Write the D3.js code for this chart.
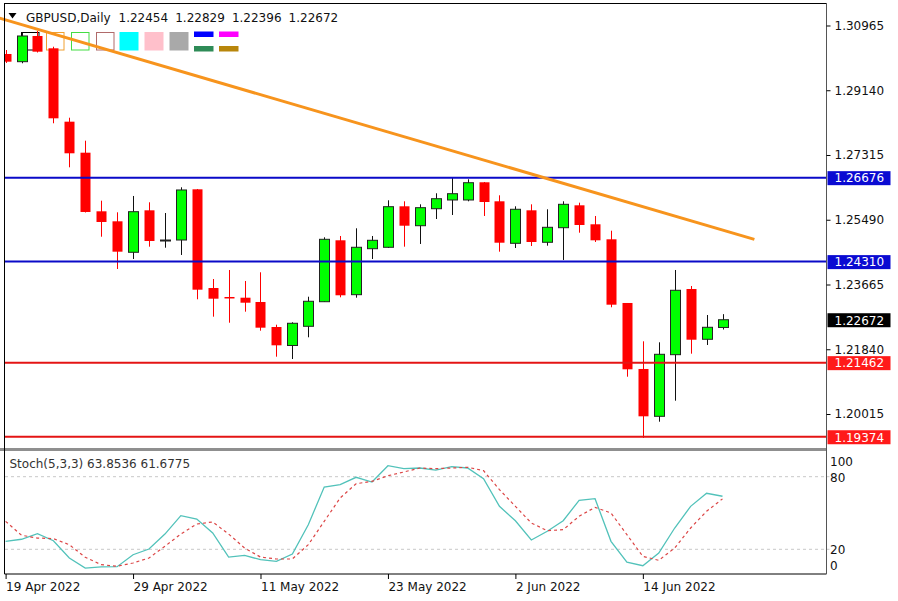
<!DOCTYPE html>
<html>
<head>
<meta charset="utf-8">
<script src="https://cdn.jsdelivr.net/npm/d3@7"></script>
<style>
  body { margin: 0; background: #fff; }
  text { font-family: "DejaVu Sans", sans-serif; font-size: 12px; fill: #111; }
</style>
</head>
<body>
<div id="root"></div>
<script>
// Daily bars, GBPUSD
const dates = [
  "2022-04-19", "2022-04-20", "2022-04-21", "2022-04-22", "2022-04-25", "2022-04-26",
  "2022-04-27", "2022-04-28", "2022-04-29", "2022-05-02", "2022-05-03", "2022-05-04",
  "2022-05-05", "2022-05-06", "2022-05-09", "2022-05-10", "2022-05-11", "2022-05-12",
  "2022-05-13", "2022-05-16", "2022-05-17", "2022-05-18", "2022-05-19", "2022-05-20",
  "2022-05-23", "2022-05-24", "2022-05-25", "2022-05-26", "2022-05-27", "2022-05-30",
  "2022-05-31", "2022-06-01", "2022-06-02", "2022-06-03", "2022-06-06", "2022-06-07",
  "2022-06-08", "2022-06-09", "2022-06-10", "2022-06-13", "2022-06-14", "2022-06-15",
  "2022-06-16", "2022-06-17", "2022-06-20", "2022-06-21"
];
const open = [
  1.30162, 1.29945, 1.30669, 1.30322, 1.28254, 1.27380, 1.25728, 1.25446, 1.24573, 1.25756,
  1.24919, 1.24919, 1.26348, 1.23566, 1.23313, 1.23293, 1.23172, 1.22467, 1.21946, 1.22487,
  1.23180, 1.24911, 1.23378, 1.24674, 1.24714, 1.25869, 1.25322, 1.25801, 1.26047, 1.26047,
  1.26546, 1.26010, 1.24826, 1.25756, 1.24855, 1.25266, 1.25897, 1.25362, 1.24939, 1.23144,
  1.21284, 1.19950, 1.21687, 1.23538, 1.22121, 1.22454
];
const high = [
  1.30274, 1.30754, 1.30810, 1.30367, 1.28366, 1.27718, 1.26027, 1.25700, 1.26160, 1.25982,
  1.25680, 1.26405, 1.26357, 1.23820, 1.24074, 1.23764, 1.24009, 1.22532, 1.22600, 1.23321,
  1.24995, 1.25032, 1.25249, 1.25032, 1.26038, 1.26010, 1.25925, 1.26236, 1.26687, 1.26630,
  1.26554, 1.26179, 1.25869, 1.25925, 1.25785, 1.26010, 1.25971, 1.25596, 1.25181, 1.23144,
  1.22064, 1.22036, 1.24074, 1.23623, 1.22805, 1.22829
];
const low = [
  1.29908, 1.29900, 1.30204, 1.28209, 1.26968, 1.25695, 1.25012, 1.24102, 1.24384, 1.24731,
  1.24702, 1.24497, 1.23248, 1.22758, 1.22588, 1.22899, 1.22363, 1.21630, 1.21565, 1.22177,
  1.23172, 1.23304, 1.23293, 1.24384, 1.24694, 1.24731, 1.24807, 1.25511, 1.25624, 1.26010,
  1.25596, 1.24590, 1.24694, 1.24750, 1.24759, 1.24356, 1.25125, 1.24863, 1.23023, 1.21066,
  1.19340, 1.19798, 1.20390, 1.21715, 1.21960, 1.22396
];
const close = [
  1.29945, 1.30669, 1.30227, 1.28349, 1.27363, 1.25709, 1.25427, 1.24590, 1.25717, 1.24891,
  1.24919, 1.26329, 1.23519, 1.23265, 1.23271, 1.23152, 1.22448, 1.21951, 1.22572, 1.23192,
  1.24939, 1.23361, 1.24714, 1.24911, 1.25858, 1.25322, 1.25830, 1.26083, 1.26224, 1.26534,
  1.25990, 1.24843, 1.25785, 1.24863, 1.25277, 1.25925, 1.25342, 1.24911, 1.23096, 1.21275,
  1.19950, 1.21698, 1.23502, 1.22109, 1.22459, 1.22672
];

// Stochastic (5,3,3)
const stochK = [
  26.6, 28.3, 32.9, 27.1, 12.8, 4.5, 5.4, 5.6, 15.5, 20.2,
  32.6, 47.8, 45.0, 33.5, 13.6, 15.0, 11.4, 10.0, 16.1, 40.3,
  71.5, 73.4, 79.5, 75.6, 89.1, 86.6, 87.2, 85.5, 88.3, 87.2,
  78.3, 55.5, 43.6, 27.7, 34.9, 43.6, 60.5, 61.8, 26.6, 9.3,
  6.4, 16.9, 37.6, 55.5, 66.3, 63.8536
];
const stochD = [
  43.1, 31.6, 29.3, 28.8, 23.8, 13.4, 7.3, 6.0, 8.7, 12.8,
  22.5, 32.6, 40.9, 42.6, 32.6, 21.1, 13.6, 12.0, 12.0, 23.8,
  43.1, 62.4, 74.2, 76.2, 80.8, 83.9, 87.2, 86.6, 87.2, 87.8,
  85.0, 69.3, 55.5, 41.7, 35.4, 36.2, 47.3, 54.7, 50.0, 32.1,
  14.2, 10.9, 21.1, 37.6, 51.4, 61.6775
];

// Horizontal levels and trend line
const resistance = [1.26676, 1.24310];
const support = [1.21462, 1.19374];
const trendDates = ["2022-04-18", "2022-06-23"];
const trendPrices = [1.31254, 1.24936];

// Axis labels
const priceTicks = [1.30965, 1.29140, 1.27315, 1.25490, 1.23665, 1.21840, 1.20015];
const stochTicks = [100, 80, 20, 0];
const stochLevels = [80, 20];
const tickDates = ["2022-04-19", "2022-04-29", "2022-05-11", "2022-05-23", "2022-06-02", "2022-06-14"];

// Layout
const width = 898;
const height = 601;
const plotLeft = 4.5;
const plotRight = 826.5;
const mainTop = 3;
const mainBottom = 447;
const stochTop = 452.5;
const stochBottom = 573.5;
const font = "DejaVu Sans";

const parseDate = d3.timeParse("%Y-%m-%d");
const labelFormat = d3.timeFormat("%-d %b %Y");

// bar index of any date, counting weekdays from the first bar
function barIndex(s) {
  const t = parseDate(s);
  const first = parseDate(dates[0]);
  const sign = t < first ? -1 : 1;
  const range = sign > 0 ? d3.timeDay.range(first, t) : d3.timeDay.range(t, first);
  let n = 0;
  range.forEach(d => {
    if (d.getDay() !== 0 && d.getDay() !== 6) n++;
  });
  return sign * n;
}

const svg = d3
  .select("#root")
  .append("svg")
  .attr("width", width)
  .attr("height", height);

// Scales
const xScale = d3.scaleLinear().domain([0, dates.length - 1]).range([5.6, 722.5]);
const yScale = d3.scaleLinear().domain([1.19085, 1.31599]).range([mainBottom, mainTop]);
const stochScale = d3.scaleLinear().domain([0, 100]).range([stochBottom, stochTop]);

const defs = svg.append("defs");
defs.append("clipPath").attr("id", "clip-main")
  .append("rect").attr("x", 5).attr("y", mainTop).attr("width", plotRight - 5).attr("height", mainBottom - mainTop + 1);
defs.append("clipPath").attr("id", "clip-trend")
  .append("rect").attr("x", 0).attr("y", 0).attr("width", plotRight).attr("height", mainBottom);
defs.append("clipPath").attr("id", "clip-stoch")
  .append("rect").attr("x", 5).attr("y", 451).attr("width", plotRight - 5).attr("height", stochBottom - 451);

// Colour swatches under the title
const swatches = svg.append("g");
const outlineColors = ["#000000", "#f0a030", "#44dd44", "#b06a6a"];
const fillColors = ["#00ffff", "#ffc0cb", "#a9a9a9"];
const splitColors = [["#0000ff", "#2e8b57"], ["#ff00ff", "#b8860b"]];
outlineColors.forEach((c, k) => {
  swatches.append("rect")
    .attr("x", 21.5 + k * 25).attr("y", 32.5)
    .attr("width", 17.5).attr("height", 17.5)
    .attr("fill", "none").attr("stroke", c).attr("stroke-width", 1);
});
fillColors.forEach((c, k) => {
  swatches.append("rect")
    .attr("x", 119.5 + k * 25).attr("y", 32)
    .attr("width", 19).attr("height", 18.5)
    .attr("fill", c);
});
splitColors.forEach((pair, k) => {
  swatches.append("rect").attr("x", 194 + k * 25).attr("y", 31.5).attr("width", 19.5).attr("height", 5.5).attr("fill", pair[0]);
  swatches.append("rect").attr("x", 194 + k * 25).attr("y", 46).attr("width", 19.5).attr("height", 5.5).attr("fill", pair[1]);
});

// Candles
const candles = svg.append("g").attr("clip-path", "url(#clip-main)");
const bars = d3.range(dates.length).map(i => ({
  i: i,
  o: open[i],
  h: high[i],
  l: low[i],
  c: close[i],
  up: close[i] >= open[i]
}));

candles.selectAll("line.wick")
  .data(bars)
  .enter()
  .append("line")
  .attr("class", "wick")
  .attr("x1", d => Math.round(xScale(d.i)) + 0.5)
  .attr("x2", d => Math.round(xScale(d.i)) + 0.5)
  .attr("y1", d => yScale(d.h))
  .attr("y2", d => yScale(d.l))
  .attr("stroke", d => (d.up ? "#111" : "#ff0000"))
  .attr("stroke-width", 1);

candles.selectAll("rect.body")
  .data(bars)
  .enter()
  .append("rect")
  .attr("class", "body")
  .attr("x", d => Math.round(xScale(d.i)) - 4.5)
  .attr("width", 10)
  .attr("y", d => yScale(Math.max(d.o, d.c)))
  .attr("height", d => Math.max(1, Math.abs(yScale(d.o) - yScale(d.c))))
  .attr("fill", d => (d.up ? "#00ff00" : "#ff0000"))
  .attr("stroke", d => (d.up ? "#222" : "none"))
  .attr("stroke-width", 1);

// Horizontal levels
function levelLine(price, color) {
  svg.append("line")
    .attr("x1", 5).attr("x2", plotRight)
    .attr("y1", yScale(price)).attr("y2", yScale(price))
    .attr("stroke", color)
    .attr("stroke-width", 2);
}
resistance.forEach(p => levelLine(p, "#0a0ac8"));
support.forEach(p => levelLine(p, "#e41414"));

// Trend line
svg.append("line")
  .attr("clip-path", "url(#clip-trend)")
  .attr("x1", xScale(barIndex(trendDates[0])))
  .attr("y1", yScale(trendPrices[0]))
  .attr("x2", xScale(barIndex(trendDates[1])))
  .attr("y2", yScale(trendPrices[1]))
  .attr("stroke", "#f7941d")
  .attr("stroke-width", 3);

// Title
svg.append("path").attr("d", "M8.5,13 L16.5,13 L12.5,18.5 Z").attr("fill", "#000");
svg.append("text").attr("x", 26).attr("y", 22).text("GBPUSD,Daily");
[open[open.length - 1], high[high.length - 1], low[low.length - 1], close[close.length - 1]].forEach((v, k) => {
  svg.append("text").attr("x", 118.5 + k * 56.7).attr("y", 22).text(d3.format(".5f")(v));
});

// Separator between panels
svg.append("rect").attr("x", 0).attr("y", 448).attr("width", plotRight).attr("height", 3).attr("fill", "#8f8f8f");

// Stochastic levels
stochLevels.forEach(v => {
  svg.append("line")
    .attr("x1", 5).attr("x2", plotRight + 3)
    .attr("y1", stochScale(v)).attr("y2", stochScale(v))
    .attr("stroke", "#c8c8c8")
    .attr("stroke-dasharray", "3,3");
});

// Stochastic lines
const stochG = svg.append("g").attr("clip-path", "url(#clip-stoch)");
const stochLine = d3.line().x((d, i) => xScale(i)).y(d => stochScale(d));
stochG.append("path")
  .datum(stochK)
  .attr("fill", "none")
  .attr("stroke", "#52c2ba")
  .attr("stroke-width", 1.3)
  .attr("d", stochLine);
stochG.append("path")
  .datum(stochD)
  .attr("fill", "none")
  .attr("stroke", "#dc4646")
  .attr("stroke-width", 1.2)
  .attr("stroke-dasharray", "3,3")
  .attr("d", stochLine);

svg.append("text")
  .attr("x", 9.5).attr("y", 467.5)
  .style("fill", "#333")
  .text("Stoch(5,3,3) " + stochK[stochK.length - 1].toFixed(4) + " " + stochD[stochD.length - 1].toFixed(4));

// Frames
svg.append("line").attr("x1", plotLeft).attr("x2", plotLeft).attr("y1", mainTop).attr("y2", 574).attr("stroke", "#000");
svg.append("line").attr("x1", plotLeft).attr("x2", plotRight).attr("y1", mainTop + 0.5).attr("y2", mainTop + 0.5).attr("stroke", "#000");
svg.append("line").attr("x1", plotLeft).attr("x2", plotRight).attr("y1", 574).attr("y2", 574).attr("stroke", "#000");
svg.append("line").attr("x1", plotRight).attr("x2", plotRight).attr("y1", mainTop).attr("y2", 574).attr("stroke", "#555");

// Price axis
const yAxis = d3.axisRight(yScale)
  .tickValues(priceTicks)
  .tickSize(4)
  .tickPadding(4)
  .tickSizeOuter(0)
  .tickFormat(d3.format(".5f"));
const yAxisG = svg.append("g")
  .attr("transform", "translate(" + plotRight + ",0)")
  .call(yAxis);
yAxisG.select(".domain").remove();
yAxisG.selectAll("text").style("font-family", font).style("font-size", "12px").attr("fill", "#111");

// Price labels on the axis
function priceBox(price, color) {
  const y = yScale(price);
  svg.append("rect")
    .attr("x", plotRight + 1).attr("y", y - 6.5)
    .attr("width", 63).attr("height", 14)
    .attr("fill", color);
  svg.append("text")
    .attr("x", plotRight + 8).attr("y", y).attr("dy", "0.4em")
    .style("fill", "#fff")
    .text(d3.format(".5f")(price));
}
resistance.forEach(p => priceBox(p, "#0a0ad2"));
support.forEach(p => priceBox(p, "#ff1a1a"));
priceBox(close[close.length - 1], "#000");

// Stochastic axis
const stochAxis = d3.axisRight(stochScale).tickValues(stochTicks).tickSize(0).tickPadding(3.5).tickSizeOuter(0);
const stochAxisG = svg.append("g")
  .attr("transform", "translate(" + plotRight + ",0)")
  .call(stochAxis);
stochAxisG.select(".domain").remove();
stochAxisG.selectAll("text")
  .style("font-family", font).style("font-size", "12px").attr("fill", "#111")
  .attr("dy", d => (d === 100 ? "1.1em" : d === 0 ? "-0.3em" : "0.36em"));

// Time axis
const xAxis = d3.axisBottom(xScale)
  .tickValues(tickDates.map(s => dates.indexOf(s)))
  .tickSize(5)
  .tickPadding(3)
  .tickSizeOuter(0)
  .tickFormat(i => labelFormat(parseDate(dates[i])));
const xAxisG = svg.append("g")
  .attr("transform", "translate(0,574)")
  .call(xAxis);
xAxisG.select(".domain").remove();
xAxisG.selectAll("line").attr("stroke", "#000");
xAxisG.selectAll("text")
  .style("font-family", font).style("font-size", "12px").attr("fill", "#111")
  .attr("text-anchor", "start")
  .attr("x", 0);
</script>
</body>
</html>
